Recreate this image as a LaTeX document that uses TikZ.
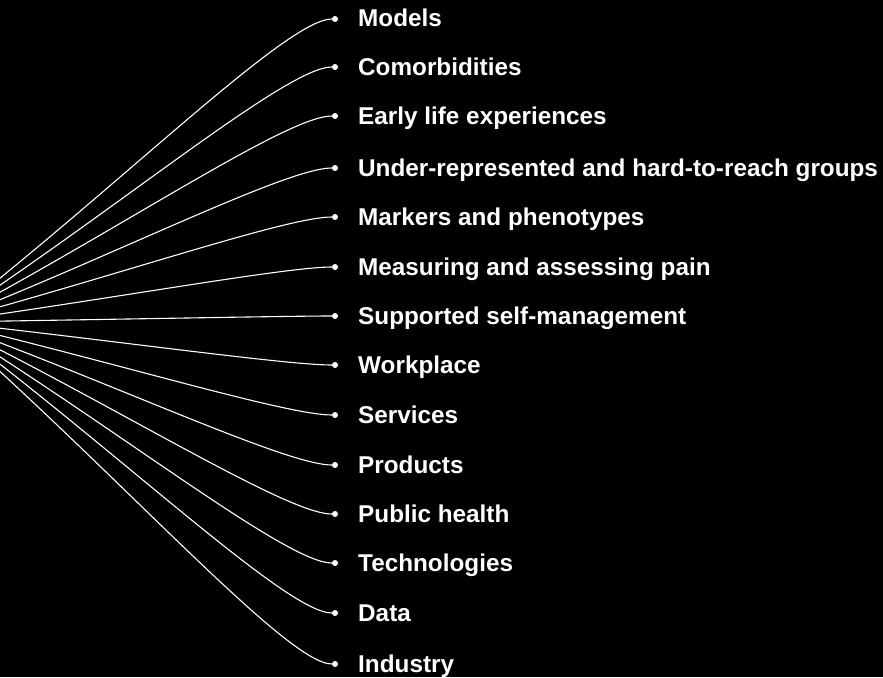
\documentclass[tikz,border=0pt]{standalone}
\usepackage{fontspec}
\setmainfont{Liberation Sans}
\usetikzlibrary{calc}

\begin{document}
\begin{tikzpicture}[x=1pt, y=-1pt,
    dot/.style={circle, fill=white, inner sep=0pt, minimum size=6pt},
    label/.style={anchor=base west, text=white, font=\fontsize{24.3}{28}\selectfont\bfseries, inner sep=0pt},
    curve/.style={draw=white, line width=1.1pt}]

    % 背景
    \fill[black] (0, 0) rectangle (883, 677);
    \clip (0, 0) rectangle (883, 677);

    % 点を置く
    \coordinate (hub) at (-55, 322);
    \node[dot] (d1) at (335, 19) {};
    \node[dot] (d2) at (335, 67) {};
    \node[dot] (d3) at (335, 116) {};
    \node[dot] (d4) at (335, 168) {};
    \node[dot] (d5) at (335, 217) {};
    \node[dot] (d6) at (335, 267) {};
    \node[dot] (d7) at (335, 316) {};
    \node[dot] (d8) at (335, 365) {};
    \node[dot] (d9) at (335, 415) {};
    \node[dot] (d10) at (335, 465) {};
    \node[dot] (d11) at (335, 514) {};
    \node[dot] (d12) at (335, 563) {};
    \node[dot] (d13) at (335, 613) {};
    \node[dot] (d14) at (335, 664) {};

    % 線を引く
    \foreach \i in {1,...,14}
        \draw[curve] (hub) .. controls ($(hub)!0.45!(d\i)$) and ([xshift=-48pt]d\i.center) .. (d\i);

    % 文字を入れる
    \node[label] (t1) at (358, 27) {Models};
    \node[label] (t2) at (358, 75) {Comorbidities};
    \node[label] (t3) at (358, 124) {Early life experiences};
    \node[label] (t4) at (358, 176) {Under-represented and hard-to-reach groups};
    \node[label] (t5) at (358, 225) {Markers and phenotypes};
    \node[label] (t6) at (358, 275) {Measuring and assessing pain};
    \node[label] (t7) at (358, 324) {Supported self-management};
    \node[label] (t8) at (358, 373) {Workplace};
    \node[label] (t9) at (358, 423) {Services};
    \node[label] (t10) at (358, 473) {Products};
    \node[label] (t11) at (358, 522) {Public health};
    \node[label] (t12) at (358, 571) {Technologies};
    \node[label] (t13) at (358, 621) {Data};
    \node[label] (t14) at (358, 672) {Industry};

\end{tikzpicture}
\end{document}
